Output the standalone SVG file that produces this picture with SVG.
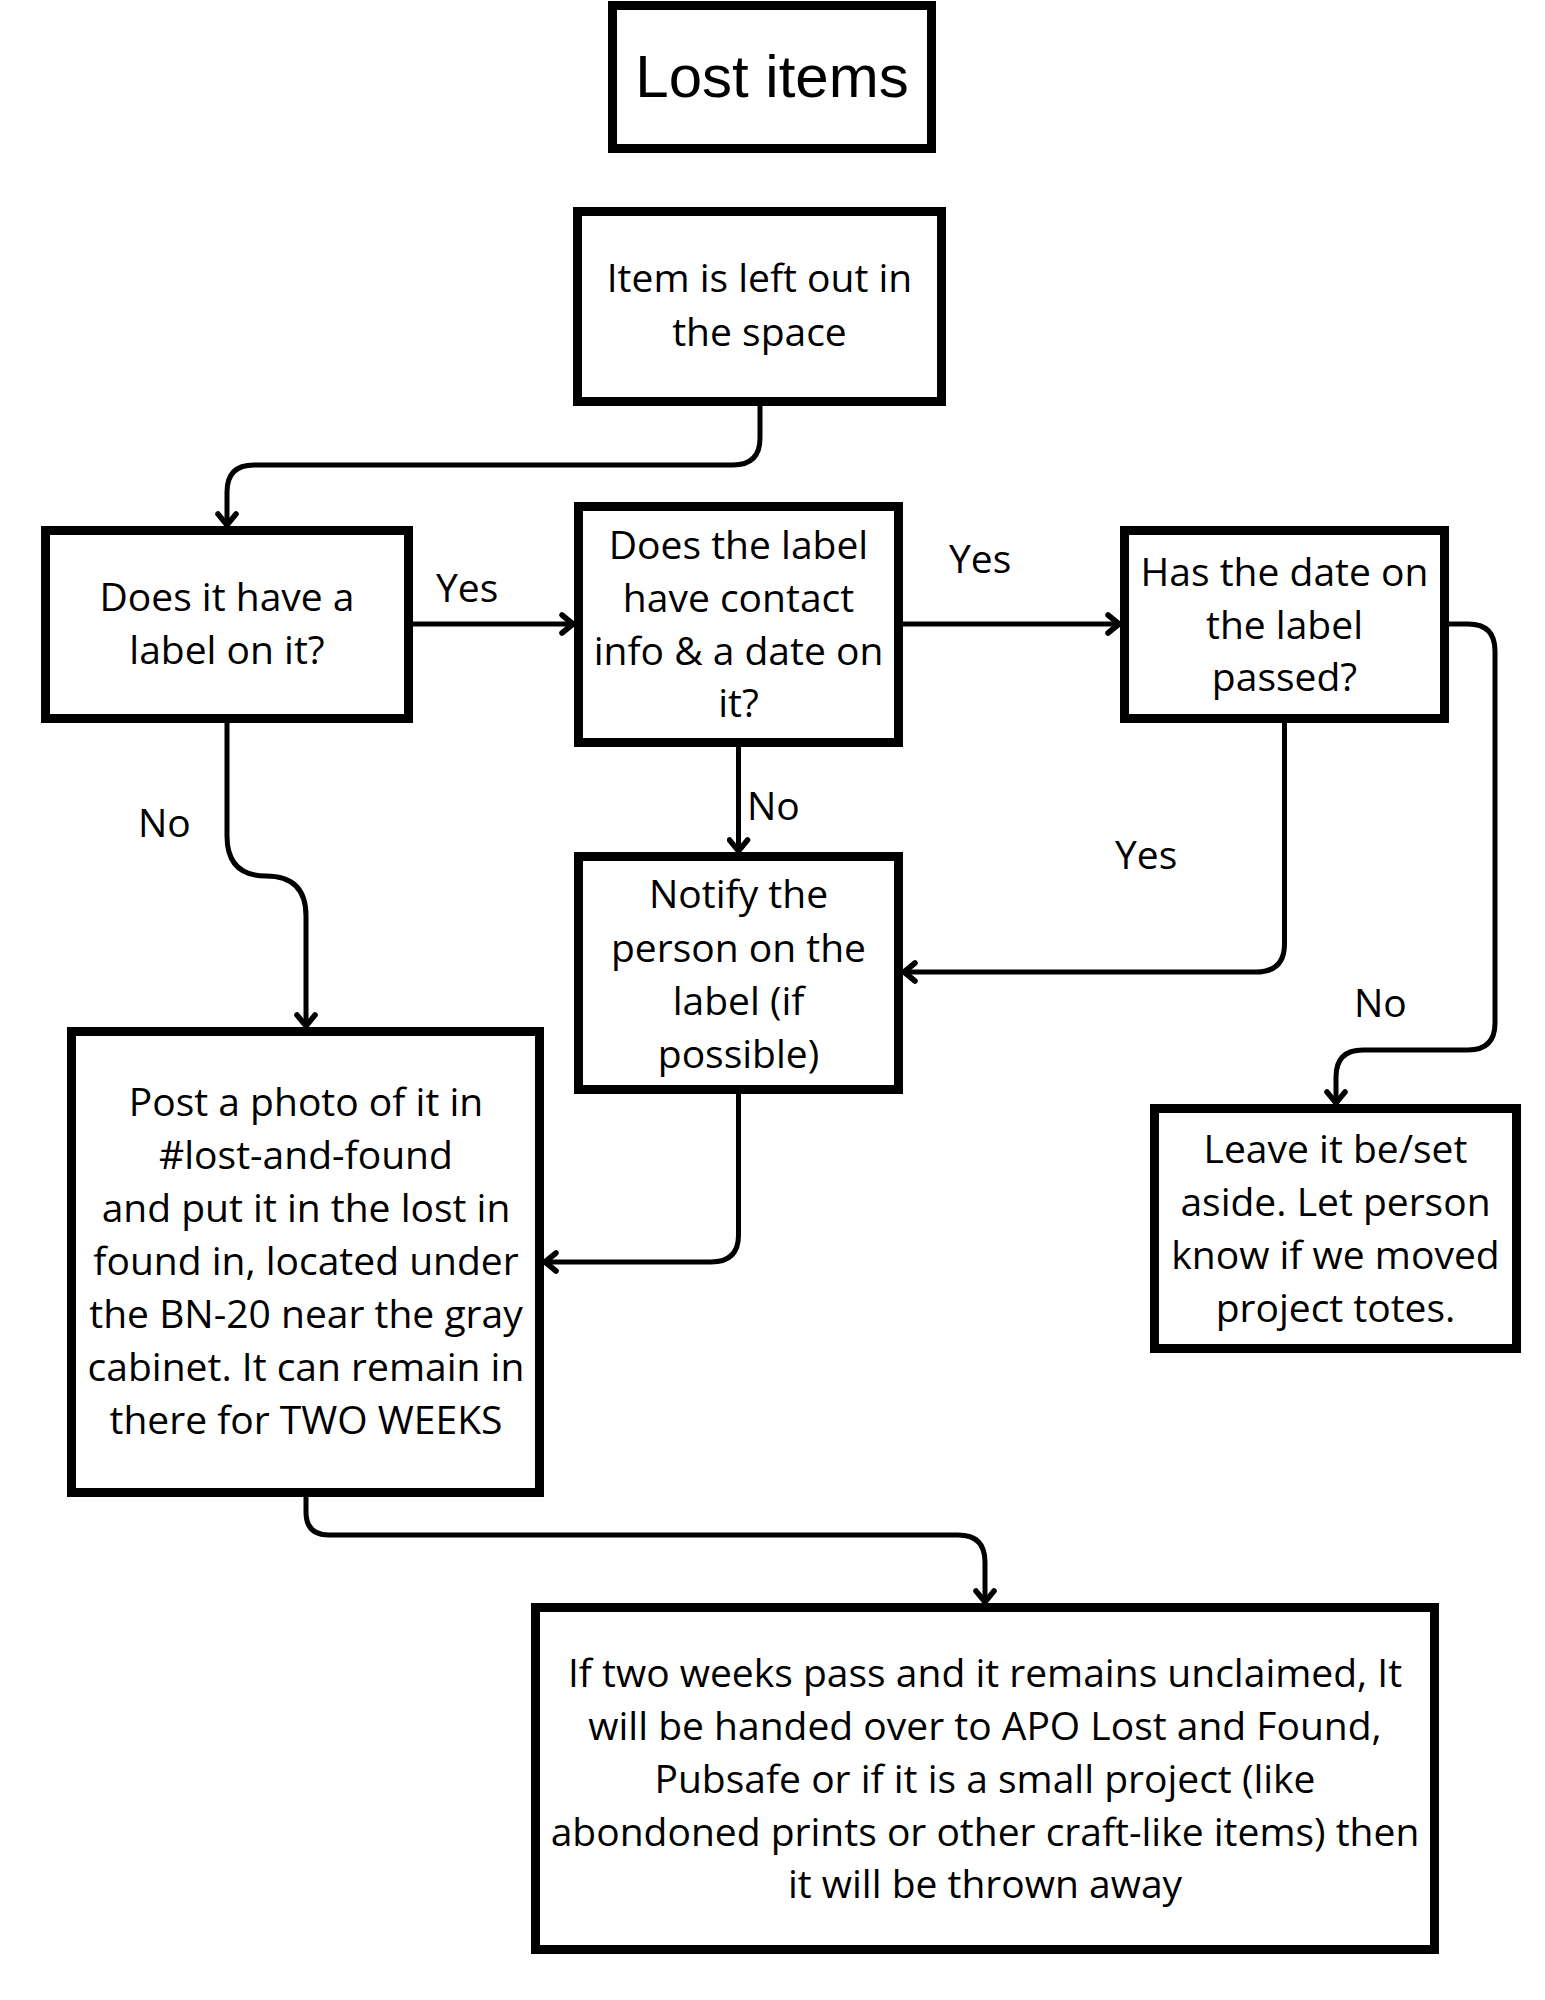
<svg xmlns="http://www.w3.org/2000/svg" width="1545" height="2000" viewBox="0 0 1545 2000">
<style>
.box{fill:#fff;stroke:#000;stroke-width:9}
.t{font-family:"Open Sans","Liberation Sans",sans-serif;font-size:39px;fill:#000;text-anchor:middle}
.lbl{font-family:"Open Sans","Liberation Sans",sans-serif;font-size:39px;fill:#000}
.title{font-family:"Liberation Sans",Arial,sans-serif;font-size:60px;fill:#000;text-anchor:middle}
.c{fill:none;stroke:#000;stroke-width:5;stroke-linecap:round;stroke-linejoin:round}
</style>
<defs>
<marker id="arr" viewBox="0 0 24 24" refX="20" refY="12" markerWidth="24" markerHeight="24" markerUnits="userSpaceOnUse" orient="auto">
<path d="M9,3 L20,12 L9,21" fill="none" stroke="#000" stroke-width="5.5" stroke-linecap="round" stroke-linejoin="round"/>
</marker>
</defs>
<rect width="1545" height="2000" fill="#fff"/>
<g id="connectors">
<path class="c" d="M760,406 V438 Q760,465 733,465 H254 Q227,465 227,492 V525" marker-end="url(#arr)"/>
<path class="c" d="M413,624 H573" marker-end="url(#arr)"/>
<path class="c" d="M903,624 H1119" marker-end="url(#arr)"/>
<path class="c" d="M227,723 V836 Q227,876 266,876 Q306,876 306,916 V1026" marker-end="url(#arr)"/>
<path class="c" d="M738.5,747 V851" marker-end="url(#arr)"/>
<path class="c" d="M1284.5,723 V944 Q1284.5,972 1256,972 H904" marker-end="url(#arr)"/>
<path class="c" d="M1449,624 H1468 Q1495,624 1495,651 V1023 Q1495,1050 1468,1050 H1363 Q1336,1050 1336,1077 V1103" marker-end="url(#arr)"/>
<path class="c" d="M738.5,1094 V1235 Q738.5,1262 711,1262 H545" marker-end="url(#arr)"/>
<path class="c" d="M306,1497 V1512 Q306,1535 329,1535 H958 Q985,1535 985,1562 V1602" marker-end="url(#arr)"/>
</g>
<g id="labels">
<text class="lbl" x="436" y="602">Yes</text>
<text class="lbl" x="949" y="573">Yes</text>
<text class="lbl" x="138" y="837">No</text>
<text class="lbl" x="747" y="820">No</text>
<text class="lbl" x="1115" y="869">Yes</text>
<text class="lbl" x="1354" y="1017">No</text>
</g>
<g id="title">
<rect class="box" x="612.5" y="5.5" width="319" height="143"/>
<text class="title" x="772" y="97">Lost items</text>
</g>
<g id="n-item-left">
<rect class="box" x="577.5" y="211.5" width="364" height="190"/>
<text class="t" x="759.5" y="292">Item is left out in</text>
<text class="t" x="759.5" y="346">the space</text>
</g>
<g id="n-has-label">
<rect class="box" x="45.5" y="530.5" width="363" height="188"/>
<text class="t" x="227" y="611">Does it have a</text>
<text class="t" x="227" y="664">label on it?</text>
</g>
<g id="n-contact-info">
<rect class="box" x="578.5" y="506.5" width="320" height="236"/>
<text class="t" x="738.5" y="559">Does the label</text>
<text class="t" x="738.5" y="612">have contact</text>
<text class="t" x="738.5" y="665">info &amp; a date on</text>
<text class="t" x="738.5" y="717">it?</text>
</g>
<g id="n-date-passed">
<rect class="box" x="1124.5" y="530.5" width="320" height="188"/>
<text class="t" x="1284.5" y="586">Has the date on</text>
<text class="t" x="1284.5" y="639">the label</text>
<text class="t" x="1284.5" y="691">passed?</text>
</g>
<g id="n-notify">
<rect class="box" x="578.5" y="856.5" width="320" height="233"/>
<text class="t" x="738.5" y="908">Notify the</text>
<text class="t" x="738.5" y="962">person on the</text>
<text class="t" x="738.5" y="1015">label (if</text>
<text class="t" x="738.5" y="1068">possible)</text>
</g>
<g id="n-post-photo">
<rect class="box" x="71.5" y="1031.5" width="468" height="461"/>
<text class="t" x="306" y="1116">Post a photo of it in</text>
<text class="t" x="306" y="1169">#lost-and-found</text>
<text class="t" x="306" y="1222">and put it in the lost in</text>
<text class="t" x="306" y="1275">found in, located under</text>
<text class="t" x="306" y="1328">the BN-20 near the gray</text>
<text class="t" x="306" y="1381">cabinet. It can remain in</text>
<text class="t" x="306" y="1434">there for TWO WEEKS</text>
</g>
<g id="n-leave-it">
<rect class="box" x="1154.5" y="1108.5" width="362" height="240"/>
<text class="t" x="1335.5" y="1163">Leave it be/set</text>
<text class="t" x="1335.5" y="1216">aside. Let person</text>
<text class="t" x="1335.5" y="1269">know if we moved</text>
<text class="t" x="1335.5" y="1322">project totes.</text>
</g>
<g id="n-two-weeks">
<rect class="box" x="535.5" y="1607.5" width="899" height="342"/>
<text class="t" x="985" y="1687">If two weeks pass and it remains unclaimed, It</text>
<text class="t" x="985" y="1740">will be handed over to APO Lost and Found,</text>
<text class="t" x="985" y="1793">Pubsafe or if it is a small project (like</text>
<text class="t" x="985" y="1846">abondoned prints or other craft-like items) then</text>
<text class="t" x="985" y="1898">it will be thrown away</text>
</g>
</svg>
